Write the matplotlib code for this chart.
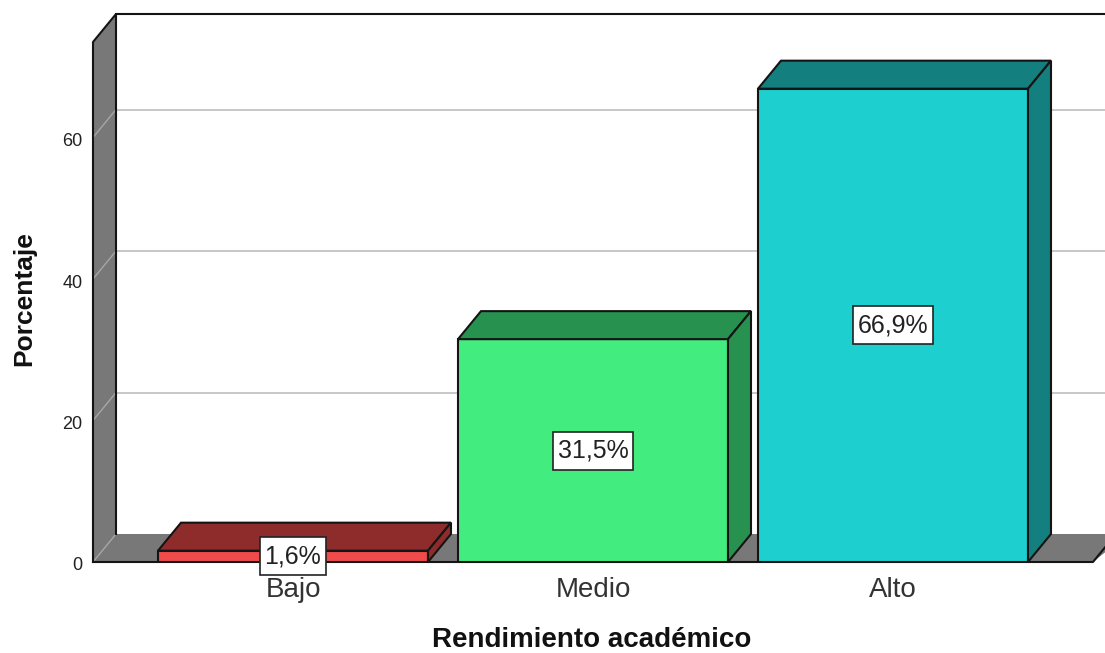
import matplotlib
matplotlib.use("Agg")
import matplotlib.pyplot as plt
from matplotlib.patches import Polygon
from matplotlib.path import Path
from matplotlib.transforms import ScaledTranslation

categories = ["Bajo", "Medio", "Alto"]
percentages = [1.6, 31.5, 66.9]
value_labels = ["1,6%", "31,5%", "66,9%"]
y_ticks = [0, 20, 40, 60]
front_colors = ["#F04B4B", "#43EC7E", "#1DCFCF"]
side_colors = ["#8E2C2C", "#27924F", "#137F7F"]
x_title = "Rendimiento académico"
y_title = "Porcentaje"

W, H = 1105, 653
PX_X = 300.0   # pixels per category
PX_Y = 7.075   # pixels per percent
DX = 23 / PX_X
DY = 28 / PX_Y
BAR_W = 270 / PX_X
EDGE = "#141414"
WALL = "#787878"


def label_box(x0, y0, width, height, mutation_size):
    """Rectangle with wider vertical than horizontal padding (pixels)."""
    px, py = 5, 7
    a, b = x0 - px, x0 + width + px
    c, d = y0 - py, y0 + height + py
    return Path([(a, c), (b, c), (b, d), (a, d), (a, c)],
                [Path.MOVETO, Path.LINETO, Path.LINETO, Path.LINETO, Path.CLOSEPOLY])


plt.rcParams["font.family"] = ["Liberation Sans", "DejaVu Sans"]
fig = plt.figure(figsize=(W / 100, H / 100), dpi=100)
left, right, top, bottom = 93, 1105, 14, 562
ax = fig.add_axes([left / W, 1 - bottom / H, (right - left) / W, (bottom - top) / H])
ax.set_xlim((left - 293) / PX_X, (right - 293) / PX_X)
ax.set_ylim(0, (bottom - top) / PX_Y)
for s in ax.spines.values():
    s.set_visible(False)

x0, x1 = ax.get_xlim()
y1 = ax.get_ylim()[1]
wall_top = y1 - DY

# left wall, floor, back frame
ax.add_patch(Polygon([(x0, 0), (x0 + DX, DY), (x0 + DX, y1), (x0, wall_top)],
                     closed=True, fc=WALL, ec="none", zorder=1, clip_on=False))
ax.plot([x0, x0, x0 + DX, x0 + DX], [0, wall_top, y1, DY], color=EDGE, lw=1.5, zorder=1.2, clip_on=False)
ax.add_patch(Polygon([(x0, 0), (x0 + DX, DY), (x1 + DX, DY), (x1 - 12 / PX_X, 0)],
                     closed=True, fc=WALL, ec="none", zorder=1))
ax.plot([x0, x0 + DX], [0, DY], color="#A6A6A6", lw=1.0, zorder=1.1)
ax.plot([x0, x1 - 12 / PX_X, x1], [0, 0, 12 * 28 / 23 / PX_Y], color=EDGE, lw=1.5, zorder=1.2, clip_on=False)
ax.plot([x0 + DX, x1], [y1, y1], color=EDGE, lw=1.5, zorder=1.2, clip_on=False)

# grid lines on the back wall and side wall
for t in y_ticks[1:]:
    ax.plot([x0 + DX, x1], [t + DY, t + DY], color="#BDBDBD", lw=1.2, zorder=0.8)
    ax.plot([x0, x0 + DX], [t, t + DY], color="#A6A6A6", lw=1.0, zorder=1.1)

# bars with depth
positions = list(range(len(categories)))
ax.bar(positions, percentages, width=BAR_W, color=front_colors, edgecolor=EDGE, linewidth=1.5, zorder=3)
for p, v, c in zip(positions, percentages, side_colors):
    a, b = p - BAR_W / 2, p + BAR_W / 2
    ax.add_patch(Polygon([(a, v), (a + DX, v + DY), (b + DX, v + DY), (b, v)],
                         closed=True, fc=c, ec=EDGE, lw=1.5, zorder=3))
    ax.add_patch(Polygon([(b, 0), (b + DX, DY), (b + DX, v + DY), (b, v)],
                         closed=True, fc=c, ec=EDGE, lw=1.5, zorder=3))

ax.set_xticks(positions, categories)
ax.set_yticks(y_ticks)
ax.tick_params(axis="x", length=0, labelsize=20, labelcolor="#333333", pad=11)
ax.tick_params(axis="y", length=0, labelsize=13, labelcolor="#222222", pad=7.5)
shift = ScaledTranslation(0, -2 / 100, fig.dpi_scale_trans)
for lab in ax.get_yticklabels():
    lab.set_transform(lab.get_transform() + shift)

for p, v, s in zip(positions, percentages, value_labels):
    ax.text(p, v / 2, s, ha="center", va="center", fontsize=18, color="#222222", zorder=5,
            bbox=dict(boxstyle=label_box, fc="white", ec="#222222", lw=1.2))

fig.text(592 / W, 1 - 640 / H, x_title, ha="center", va="center", fontsize=20, fontweight="bold", color="#111111")
fig.text(24 / W, 1 - 299 / H, y_title, ha="center", va="center", rotation=90, fontsize=19, fontweight="bold", color="#111111")

fig.savefig("out.png", dpi=100, facecolor="white")
